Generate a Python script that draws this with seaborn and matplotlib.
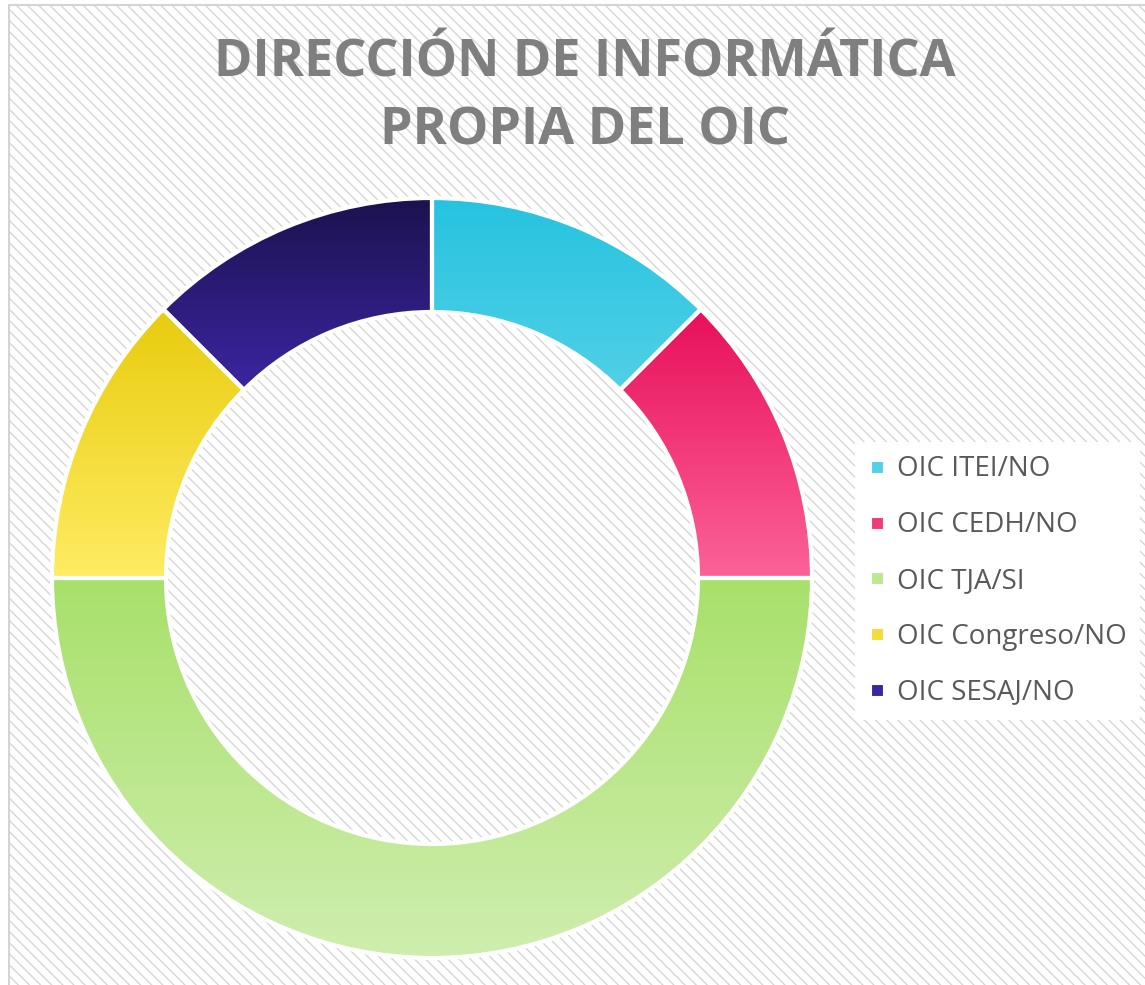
import numpy as np
import matplotlib
matplotlib.use("Agg")
import matplotlib.pyplot as plt
from matplotlib.patches import Rectangle
from matplotlib.lines import Line2D
from matplotlib.colors import LinearSegmentedColormap
import seaborn as sns

# data
labels = ["OIC ITEI/NO", "OIC CEDH/NO", "OIC TJA/SI", "OIC Congreso/NO", "OIC SESAJ/NO"]
values = [1, 1, 4, 1, 1]
top_colors = ["#26C3E0", "#E8105A", "#A8E06A", "#E8CC0E", "#1C124E"]
bottom_colors = ["#7BDDED", "#FC6298", "#CFEEAF", "#FFEC62", "#5C38F4"]

sns.set_style("white")
plt.rcParams["font.family"] = ["Open Sans", "DejaVu Sans"]
plt.rcParams["hatch.linewidth"] = 1.0

W, H = 1145, 985
fig = plt.figure(figsize=(W / 100, H / 100), dpi=100)
fig.patch.set_facecolor("white")

# hatched background and frame
bg = Rectangle((9 / W, 0), 1 - 9 / W, 1 - 5 / H, transform=fig.transFigure,
               facecolor="white", edgecolor="#D6D6D6", hatch="\\" * 3, lw=0, zorder=0)
fig.add_artist(bg)
frame = Rectangle((9 / W, -0.01), 1.02 - 9 / W, 1.01 - 5 / H, transform=fig.transFigure,
                  facecolor="none", edgecolor="#D4D4D4", lw=1.5, zorder=1)
fig.add_artist(frame)

cx, cy, r = 432, 578, 380
ax = fig.add_axes([(cx - r) / W, (H - cy - r) / H, 2 * r / W, 2 * r / H])
ax.set_xlim(-1, 1)
ax.set_ylim(-1, 1)
ax.set_aspect("equal")
ax.axis("off")
ax.patch.set_alpha(0)

wedges, _ = ax.pie(values, startangle=90, counterclock=False, radius=1,
                   wedgeprops=dict(width=0.30, edgecolor="white", linewidth=3),
                   colors=top_colors)

# vertical gradient inside each wedge
grad = np.linspace(0, 1, 256).reshape(-1, 1)
for w, c0, c1 in zip(wedges, top_colors, bottom_colors):
    verts = w.get_path().vertices
    x0, x1 = verts[:, 0].min(), verts[:, 0].max()
    y0, y1 = verts[:, 1].min(), verts[:, 1].max()
    cmap = LinearSegmentedColormap.from_list("g", [c0, c1])
    im = ax.imshow(grad, cmap=cmap, extent=(x0, x1, y0, y1), origin="upper",
                   aspect="auto", zorder=1)
    im.set_clip_path(w)
    w.set_facecolor("none")
    w.set_zorder(2)
ax.set_xlim(-1, 1)
ax.set_ylim(-1, 1)

fig.text(585 / W, 1 - 63 / H, "DIRECCIÓN DE INFORMÁTICA", ha="center", va="center",
         fontsize=37.5, fontweight="bold", color="#7F7F7F")
fig.text(585 / W, 1 - 131 / H, "PROPIA DEL OIC", ha="center", va="center",
         fontsize=37.5, fontweight="bold", color="#7F7F7F")

mid = [sns.blend_palette([a, b], 3)[1] for a, b in zip(top_colors, bottom_colors)]
handles = [Line2D([], [], marker="s", linestyle="none", markersize=9,
                  markerfacecolor=c, markeredgecolor="white", markeredgewidth=0.8)
           for c in mid]
leg = fig.legend(handles, labels, loc="center left", bbox_to_anchor=(855 / W, 1 - 581 / H),
                 frameon=True, facecolor="white", edgecolor="none", framealpha=1,
                 fontsize=20, labelcolor="#595959", handletextpad=0.4, borderaxespad=0,
                 labelspacing=1.0, borderpad=0.5, handlelength=0.6, fancybox=False)

fig.savefig("out.png", dpi=100, facecolor="white")
